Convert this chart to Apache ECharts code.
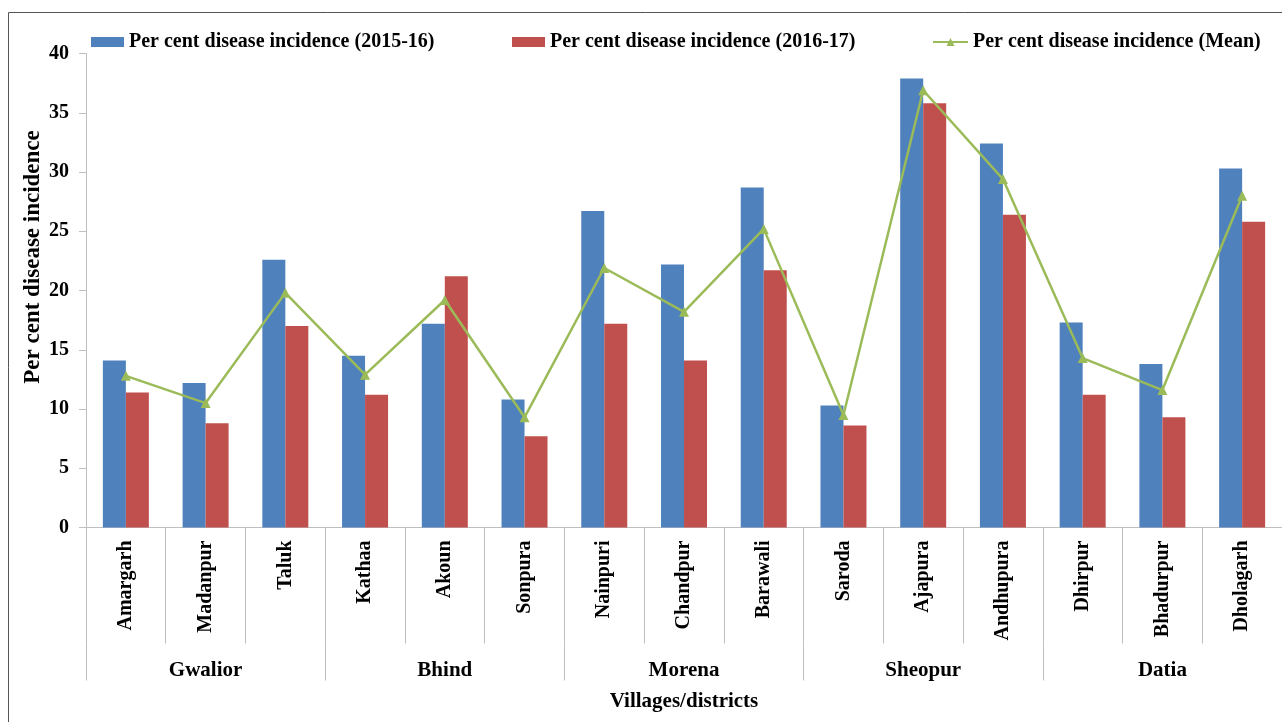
<!DOCTYPE html>
<html>
<head>
<meta charset="utf-8">
<title>Per cent disease incidence by village</title>
<script src="https://cdn.jsdelivr.net/npm/echarts@6/dist/echarts.min.js"></script>
<style>
  html, body { margin: 0; padding: 0; background: #ffffff; }
  #chart { width: 1282px; height: 722px; }
</style>
</head>
<body>
<div id="chart"></div>
<script>
// Villages surveyed, grouped three per district
const villages = ['Amargarh', 'Madanpur', 'Taluk', 'Kathaa', 'Akoun', 'Sonpura',
  'Nainpuri', 'Chandpur', 'Barawali', 'Saroda', 'Ajapura', 'Andhupura',
  'Dhirpur', 'Bhadurpur', 'Dholagarh'];
const districts = ['Gwalior', 'Bhind', 'Morena', 'Sheopur', 'Datia'];

// Per cent disease incidence per village
const incidence2015 = [14.1, 12.2, 22.6, 14.5, 17.2, 10.8, 26.7, 22.2, 28.7, 10.3, 37.9, 32.4, 17.3, 13.8, 30.3];
const incidence2016 = [11.4, 8.8, 17.0, 11.2, 21.2, 7.7, 17.2, 14.1, 21.7, 8.6, 35.8, 26.4, 11.2, 9.3, 25.8];
const incidenceMean = [12.8, 10.5, 19.8, 12.9, 19.2, 9.3, 21.9, 18.2, 25.2, 9.5, 36.9, 29.4, 14.3, 11.6, 28.0];

const yTicks = { min: 0, max: 40, step: 5 };

const seriesNames = [
  'Per cent disease incidence (2015-16)',
  'Per cent disease incidence (2016-17)',
  'Per cent disease incidence (Mean)'
];

const FONT = "'Liberation Serif', 'Times New Roman', serif";
const AXIS_GREY = '#bfbfbf';

const chart = echarts.init(document.getElementById('chart'), null, { renderer: 'canvas' });

const legendText = { fontFamily: FONT, fontWeight: 'bold', fontSize: 20, color: '#000' };

chart.setOption({
  backgroundColor: '#ffffff',
  animation: false,
  textStyle: { fontFamily: FONT },
  graphic: [
    {
      type: 'rect',
      shape: { x: 8.5, y: 12.5, width: 1290, height: 720 },
      style: { fill: 'none', stroke: '#555555', lineWidth: 1 },
      silent: true
    },
    {
      type: 'text',
      x: 33, y: 257,
      rotation: Math.PI / 2,
      style: {
        text: 'Per cent disease incidence',
        fontFamily: FONT, fontWeight: 'bold', fontSize: 23,
        fill: '#000', align: 'center', verticalAlign: 'middle'
      }
    }
  ],
  legend: [
    { left: 86, top: 27, data: [{ name: seriesNames[0], icon: 'rect' }], itemWidth: 33, itemHeight: 10, itemGap: 0, textStyle: legendText, selectedMode: false },
    { left: 507, top: 27, data: [{ name: seriesNames[1], icon: 'rect' }], itemWidth: 33, itemHeight: 10, itemGap: 0, textStyle: legendText, selectedMode: false },
    { left: 927, top: 27, data: [seriesNames[2]], itemWidth: 35, itemHeight: 10, itemGap: 0, textStyle: legendText, selectedMode: false }
  ],
  grid: { left: 86, right: -4, top: 53.5, bottom: 194.5, containLabel: false },
  xAxis: [
    {
      type: 'category',
      data: villages,
      position: 'bottom',
      axisLine: { show: true, lineStyle: { color: AXIS_GREY, width: 1 } },
      axisTick: { show: true, alignWithLabel: false, length: 116, lineStyle: { color: AXIS_GREY, width: 1 } },
      axisLabel: {
        rotate: 90, margin: 13, interval: 0,
        fontFamily: FONT, fontWeight: 'bold', fontSize: 20, color: '#000'
      },
      splitLine: { show: false }
    },
    {
      type: 'category',
      data: districts,
      position: 'bottom',
      offset: 116,
      axisLine: { show: false },
      axisTick: { show: true, alignWithLabel: false, length: 37, lineStyle: { color: AXIS_GREY, width: 1 } },
      axisLabel: { margin: 17, interval: 0, fontFamily: FONT, fontWeight: 'bold', fontSize: 21, color: '#000' },
      name: 'Villages/districts',
      nameLocation: 'middle',
      nameGap: 48,
      nameTextStyle: { fontFamily: FONT, fontWeight: 'bold', fontSize: 21, color: '#000' },
      splitLine: { show: false }
    }
  ],
  yAxis: {
    type: 'value',
    min: yTicks.min,
    max: yTicks.max,
    interval: yTicks.step,
    axisLine: { show: true, lineStyle: { color: AXIS_GREY, width: 1 } },
    axisTick: { show: true, length: 7, lineStyle: { color: AXIS_GREY, width: 1 } },
    axisLabel: { margin: 17, fontFamily: FONT, fontWeight: 'bold', fontSize: 20, color: '#000' },
    splitLine: { show: false }
  },
  series: [
    {
      name: seriesNames[0],
      type: 'bar',
      xAxisIndex: 0,
      data: incidence2015,
      barWidth: 23,
      barGap: '0%',
      itemStyle: { color: '#4f81bd' }
    },
    {
      name: seriesNames[1],
      type: 'bar',
      xAxisIndex: 0,
      data: incidence2016,
      barWidth: 23,
      barGap: '0%',
      itemStyle: { color: '#c0504d' }
    },
    {
      name: seriesNames[2],
      type: 'line',
      xAxisIndex: 0,
      data: incidenceMean,
      symbol: 'triangle',
      symbolSize: 10,
      lineStyle: { color: '#9bbb59', width: 2.5 },
      itemStyle: { color: '#9bbb59' },
      z: 5
    }
  ]
});
</script>
</body>
</html>
